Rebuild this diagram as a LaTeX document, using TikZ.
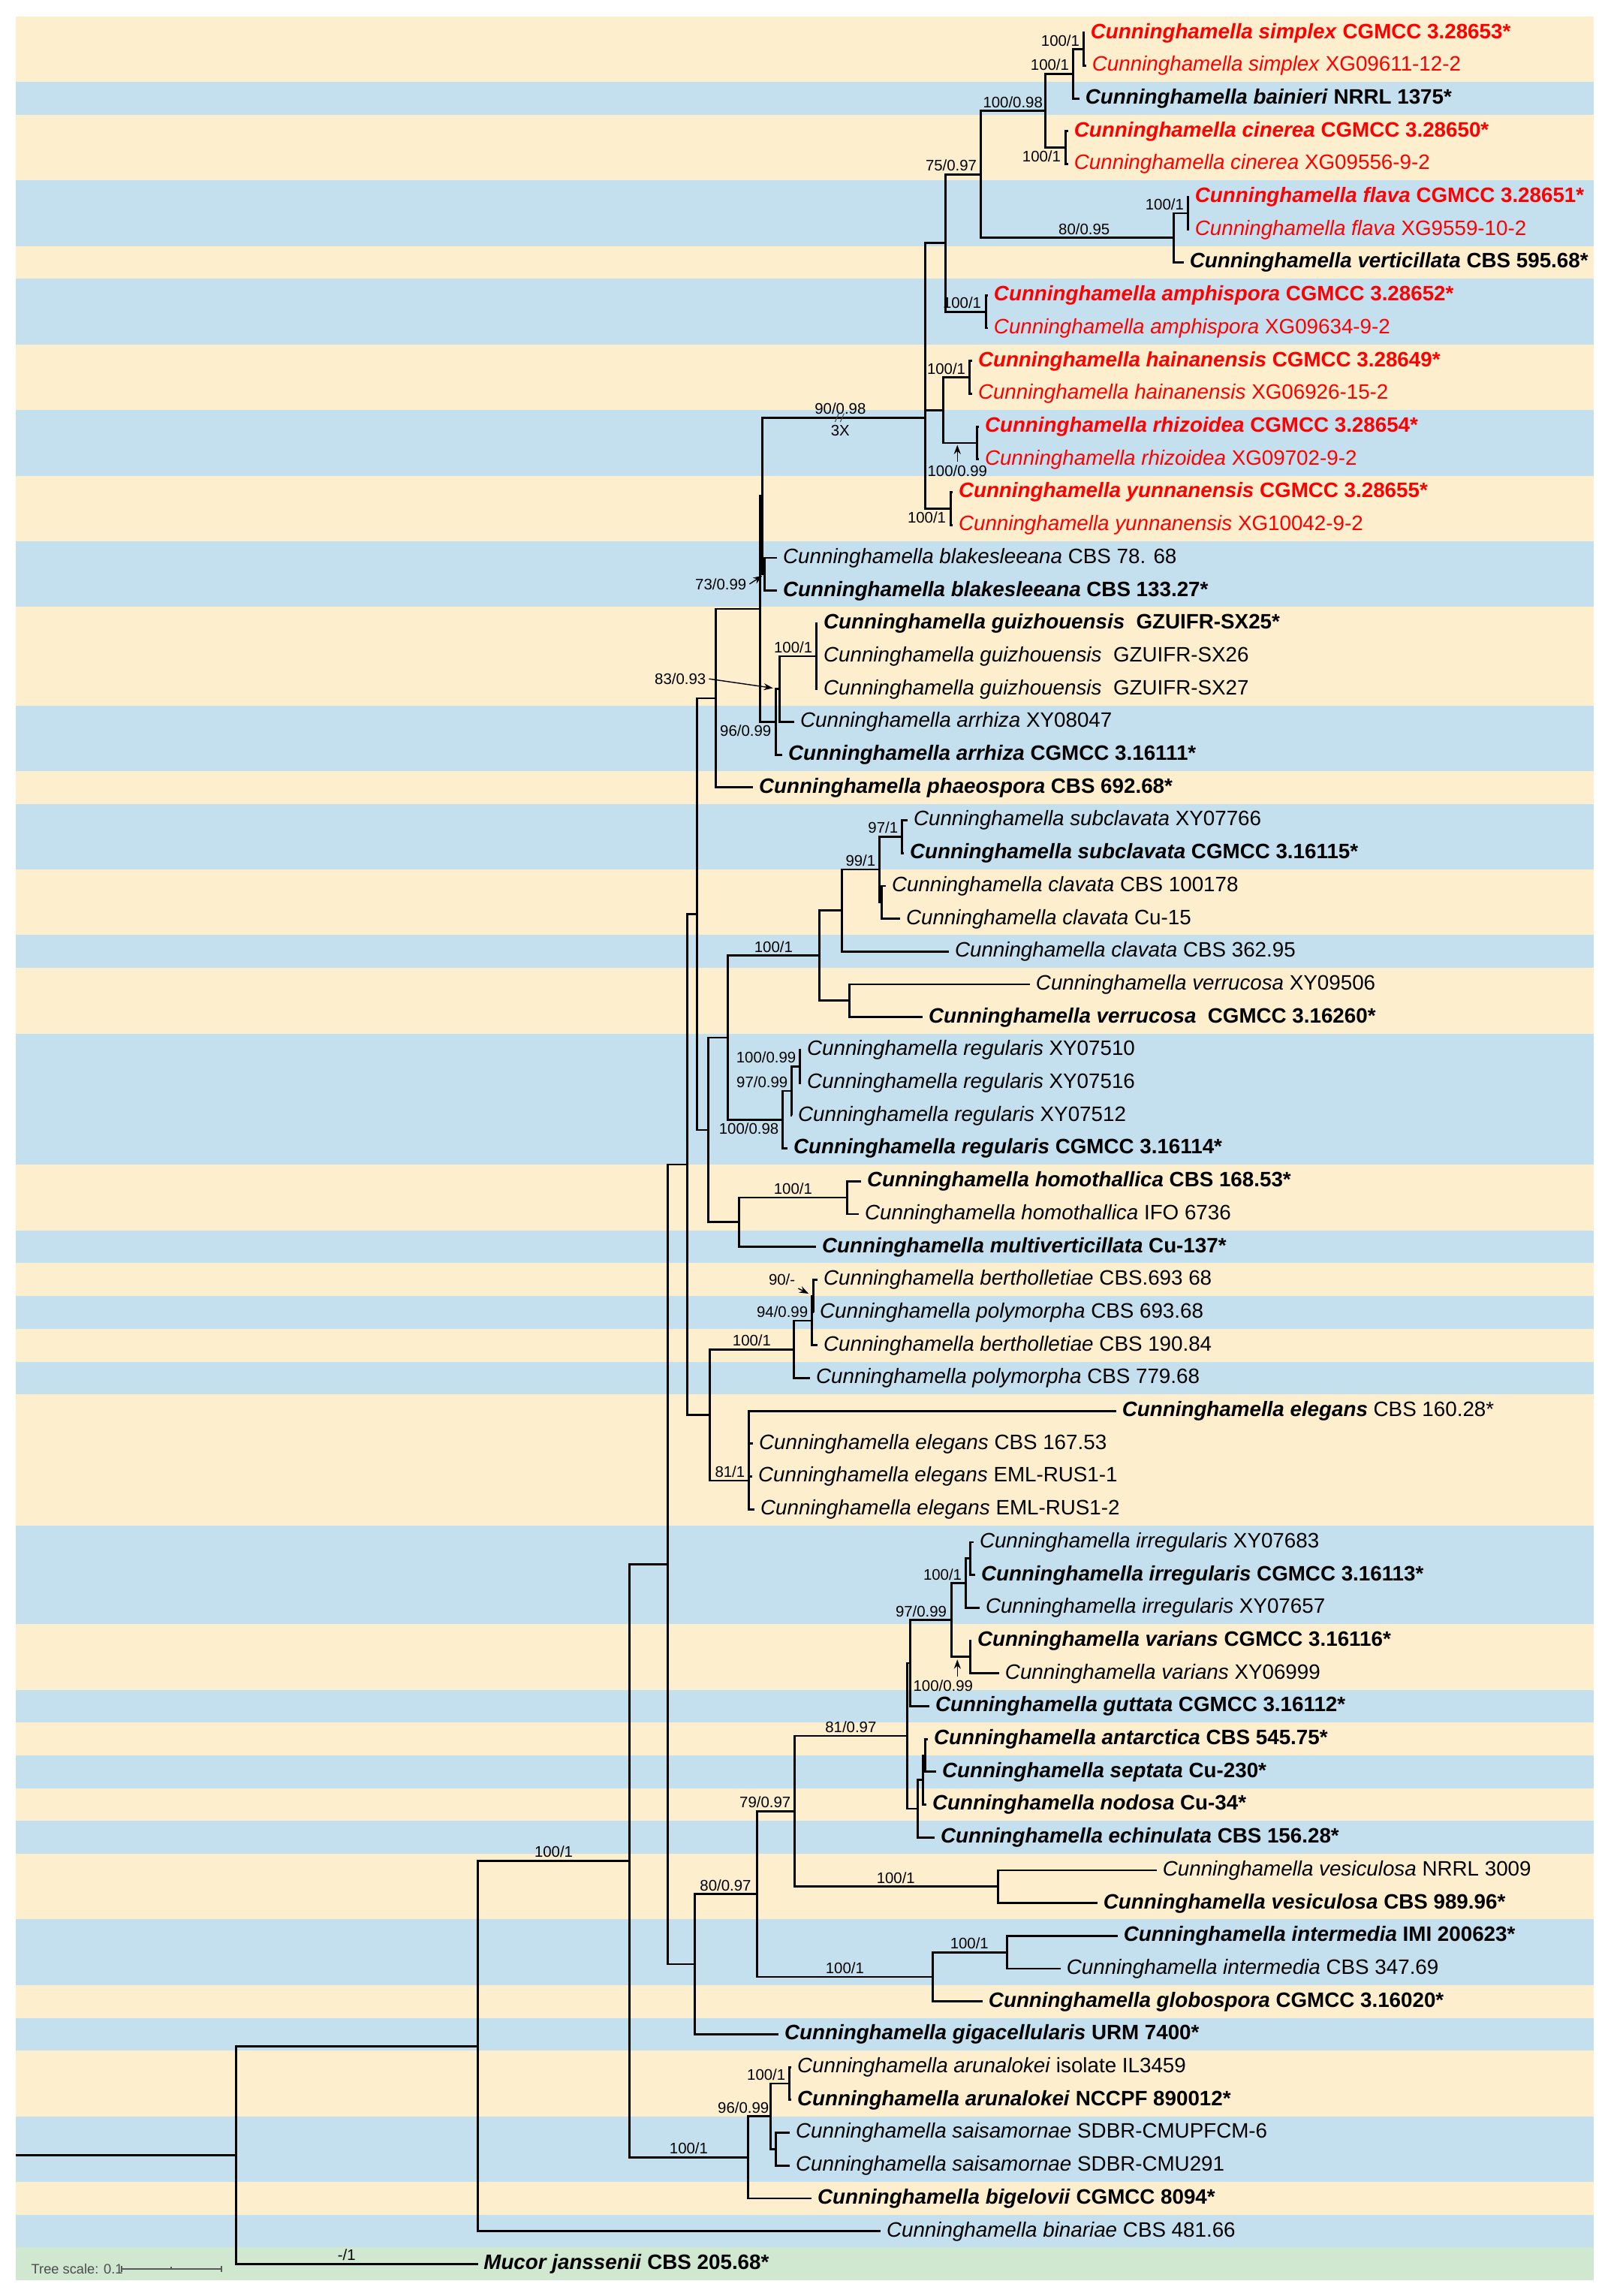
\documentclass[tikz,border=0pt]{standalone}
\usepackage{fontspec}
\setmainfont{Liberation Sans}
\usetikzlibrary{arrows.meta}
\definecolor{bandcream}{RGB}{253,238,205}
\definecolor{bandblue}{RGB}{196,224,239}
\definecolor{bandgreen}{RGB}{208,231,208}
\definecolor{newred}{RGB}{255,0,0}
\newcommand{\cun}[1]{\textit{Cunninghamella #1}}

\begin{document}
\begin{tikzpicture}[x=0.01cm, y=-0.437cm]
	\tikzset{
		mybranch/.style={line width=0.8pt},
		myleaf/.style={anchor=west, inner xsep=2pt, inner ysep=0pt, text height=5.8pt, text depth=1.6pt, font=\fontsize{7.9}{9}\selectfont},
		mysup/.style={inner sep=1pt, font=\fontsize{5.8}{7}\selectfont},
		myarrow/.style={-{Stealth[length=3.5pt,width=2.6pt]}, line width=0.4pt},
		myscale/.style={draw=black!65, line width=0.4pt}
	}

	\useasboundingbox (0,0) rectangle (2147,69.977);
	\fill[white] (0,0) rectangle (2147,69.977);

	% background bands, one per species
	\foreach \a/\b/\c in {1/2/bandcream, 3/3/bandblue, 4/5/bandcream, 6/7/bandblue, 8/8/bandcream,
		9/10/bandblue, 11/12/bandcream, 13/14/bandblue, 15/16/bandcream, 17/18/bandblue,
		19/21/bandcream, 22/23/bandblue, 24/24/bandcream, 25/26/bandblue, 27/28/bandcream,
		29/29/bandblue, 30/31/bandcream, 32/35/bandblue, 36/37/bandcream, 38/38/bandblue,
		39/39/bandcream, 40/40/bandblue, 41/41/bandcream, 42/42/bandblue, 43/46/bandcream,
		47/49/bandblue, 50/51/bandcream, 52/52/bandblue, 53/53/bandcream, 54/54/bandblue,
		55/55/bandcream, 56/56/bandblue, 57/58/bandcream, 59/60/bandblue, 61/61/bandcream,
		62/62/bandblue, 63/64/bandcream, 65/66/bandblue, 67/67/bandcream, 68/68/bandblue,
		69/69/bandgreen} {
		\fill[\c] (21,\a-0.5) rectangle (2124,\b+0.5);
	}

	% leaves: row / tip / colour / label
	\foreach \r/\t/\c/\txt in {
		1/1446/newred/{\textbf{\cun{simplex} CGMCC 3.28653*}},
		2/1448/newred/{\cun{simplex} XG09611-12-2},
		3/1439/black/{\textbf{\cun{bainieri} NRRL 1375*}},
		4/1424/newred/{\textbf{\cun{cinerea} CGMCC 3.28650*}},
		5/1424/newred/{\cun{cinerea} XG09556-9-2},
		6/1585/newred/{\textbf{\cun{flava} CGMCC 3.28651*}},
		7/1585/newred/{\cun{flava} XG9559-10-2},
		8/1578/black/{\textbf{\cun{verticillata} CBS 595.68*}},
		9/1317/newred/{\textbf{\cun{amphispora} CGMCC 3.28652*}},
		10/1317/newred/{\cun{amphispora} XG09634-9-2},
		11/1296/newred/{\textbf{\cun{hainanensis} CGMCC 3.28649*}},
		12/1296/newred/{\cun{hainanensis} XG06926-15-2},
		13/1305/newred/{\textbf{\cun{rhizoidea} CGMCC 3.28654*}},
		14/1305/newred/{\cun{rhizoidea} XG09702-9-2},
		15/1270/newred/{\textbf{\cun{yunnanensis} CGMCC 3.28655*}},
		16/1270/newred/{\cun{yunnanensis} XG10042-9-2},
		17/1036/black/{\cun{blakesleeana} CBS 78. 68},
		18/1036/black/{\textbf{\cun{blakesleeana} CBS 133.27*}},
		19/1090/black/{\textbf{\cun{guizhouensis}\ \ GZUIFR-SX25*}},
		20/1090/black/{\cun{guizhouensis}\ \ GZUIFR-SX26},
		21/1090/black/{\cun{guizhouensis}\ \ GZUIFR-SX27},
		22/1059/black/{\cun{arrhiza} XY08047},
		23/1043/black/{\textbf{\cun{arrhiza} CGMCC 3.16111*}},
		24/1004/black/{\textbf{\cun{phaeospora} CBS 692.68*}},
		25/1210/black/{\cun{subclavata} XY07766},
		26/1205/black/{\textbf{\cun{subclavata} CGMCC 3.16115*}},
		27/1181/black/{\cun{clavata} CBS 100178},
		28/1200/black/{\cun{clavata} Cu-15},
		29/1265/black/{\cun{clavata} CBS 362.95},
		30/1373/black/{\cun{verrucosa} XY09506},
		31/1230/black/{\textbf{\cun{verrucosa}\ \ CGMCC 3.16260*}},
		32/1068/black/{\cun{regularis} XY07510},
		33/1068/black/{\cun{regularis} XY07516},
		34/1056/black/{\cun{regularis} XY07512},
		35/1050/black/{\textbf{\cun{regularis} CGMCC 3.16114*}},
		36/1148/black/{\textbf{\cun{homothallica} CBS 168.53*}},
		37/1145/black/{\cun{homothallica} IFO 6736},
		38/1088/black/{\textbf{\cun{multiverticillata} Cu-137*}},
		39/1090/black/{\cun{bertholletiae} CBS.693 68},
		40/1085/black/{\cun{polymorpha} CBS 693.68},
		41/1090/black/{\cun{bertholletiae} CBS 190.84},
		42/1080/black/{\cun{polymorpha} CBS 779.68},
		43/1488/black/{\textbf{\cun{elegans}} CBS 160.28*},
		44/1004/black/{\cun{elegans} CBS 167.53},
		45/1003/black/{\cun{elegans} EML-RUS1-1},
		46/1006/black/{\cun{elegans} EML-RUS1-2},
		47/1298/black/{\cun{irregularis} XY07683},
		48/1300/black/{\textbf{\cun{irregularis} CGMCC 3.16113*}},
		49/1306/black/{\cun{irregularis} XY07657},
		50/1295/black/{\textbf{\cun{varians} CGMCC 3.16116*}},
		51/1332/black/{\cun{varians} XY06999},
		52/1239/black/{\textbf{\cun{guttata} CGMCC 3.16112*}},
		53/1237/black/{\textbf{\cun{antarctica} CBS 545.75*}},
		54/1248/black/{\textbf{\cun{septata} Cu-230*}},
		55/1235/black/{\textbf{\cun{nodosa} Cu-34*}},
		56/1246/black/{\textbf{\cun{echinulata} CBS 156.28*}},
		57/1542/black/{\cun{vesiculosa} NRRL 3009},
		58/1463/black/{\textbf{\cun{vesiculosa} CBS 989.96*}},
		59/1490/black/{\textbf{\cun{intermedia} IMI 200623*}},
		60/1414/black/{\cun{intermedia} CBS 347.69},
		61/1310/black/{\textbf{\cun{globospora} CGMCC 3.16020*}},
		62/1038/black/{\textbf{\cun{gigacellularis} URM 7400*}},
		63/1055/black/{\cun{arunalokei} isolate IL3459},
		64/1055/black/{\textbf{\cun{arunalokei} NCCPF 890012*}},
		65/1053/black/{\cun{saisamornae} SDBR-CMUPFCM-6},
		66/1053/black/{\cun{saisamornae} SDBR-CMU291},
		67/1082/black/{\textbf{\cun{bigelovii} CGMCC 8094*}},
		68/1174/black/{\cun{binariae} CBS 481.66},
		69/637/black/{\textbf{\textit{Mucor janssenii} CBS 205.68*}}} {
		\node[myleaf, text=\c] (l\r) at (\t,\r) {\txt};
	}

	% internal nodes
	\foreach \n/\x/\y in {nRoot/315/65.68, nIn/637/62.36, nA/839/56.71, nB/890/47.68,
		nC/916/35.49, nD/929/27.86, nE/954/21.28, nF/1013/18.56, nG/1016/15.11,
		nBlak/1019/17.5, nJ/1233/12.727, nK/1260/7.406, n75/1307/5.3125, nBC/1393/3.375,
		nSB/1430/2.25, nSim/1444/1.5, nCin/1420/4.5, n80/1564/7.25, nFla/1583/6.5,
		nAmph/1314/9.5, nHR/1257/12.5, nHai/1292/11.5, nRhi/1302/13.5, nYun/1267/15.5,
		nH/1034/22, nI/1039/21, nGui/1088/20,
		nL/944/34.4375, nM/970/31.625, nClv/1092/29.125, nCl1/1122/27.75, n99/1172/26.5,
		n97/1202/25.5, nCl2/1175/27.5, nVer/1132/30.5, nReg/1043/34.125, nR97/1055/33.25,
		nR100/1066/32.5, nHM/985/37.25, nHom/1129/36.5,
		nN/946/43.125, nBP/1058/41.125, nB94/1082/40.25, nB90/1084/39.5, nEl/998/45.125,
		nO/926/59.86, n80b/1009/57.727, n79/1059/55.203, n81/1209/52.906, nIV/1213/50.6875,
		n97b/1268/49.375, nIrr/1287/48.25, nIrr2/1293/47.5, nVar/1293/50.5,
		nAnt/1223/55.125, nAnt2/1230/54.25, nAnt3/1233/53.5, nVes/1330/57.5,
		nInt/1243/60.25, nInt2/1342/59.5,
		nP/997/65.75, n96/1027/64.5, nAru/1052/63.5, nSai/1034/65.5} {
		\coordinate (\n) at (\x,\y);
	}
	\coordinate (rootL) at (21,65.68);

	% branches
	\draw[mybranch] (rootL) -- (nRoot);
	\foreach \p/\c in {nRoot/nIn, nRoot/l69.west, nIn/nA, nIn/l68.west, nA/nB, nA/nP,
		nB/nC, nB/nO, nC/nD, nC/nN, nD/nE, nD/nL, nE/nF, nE/l24.west, nF/nG, nF/nH,
		nG/nJ, nG/nBlak, nBlak/l17.west, nBlak/l18.west,
		nJ/nK, nJ/nHR, nJ/nYun, nK/n75, nK/nAmph, n75/nBC, n75/n80,
		nBC/nSB, nBC/nCin, nSB/nSim, nSB/l3.west, nSim/l1.west, nSim/l2.west,
		nCin/l4.west, nCin/l5.west, n80/nFla, n80/l8.west, nFla/l6.west, nFla/l7.west,
		nAmph/l9.west, nAmph/l10.west, nHR/nHai, nHR/nRhi, nHai/l11.west, nHai/l12.west,
		nRhi/l13.west, nRhi/l14.west, nYun/l15.west, nYun/l16.west,
		nH/nI, nH/l23.west, nI/nGui, nI/l22.west, nGui/l19.west, nGui/l20.west, nGui/l21.west,
		nL/nM, nL/nHM, nM/nClv, nM/nReg, nClv/nCl1, nClv/nVer, nCl1/n99, nCl1/l29.west,
		n99/n97, n99/nCl2, n97/l25.west, n97/l26.west, nCl2/l27.west, nCl2/l28.west,
		nVer/l30.west, nVer/l31.west, nReg/nR97, nReg/l35.west, nR97/nR100, nR97/l34.west,
		nR100/l32.west, nR100/l33.west, nHM/nHom, nHM/l38.west, nHom/l36.west, nHom/l37.west,
		nN/nBP, nN/nEl, nBP/nB94, nBP/l42.west, nB94/nB90, nB94/l41.west,
		nB90/l39.west, nB90/l40.west, nEl/l43.west, nEl/l44.west, nEl/l45.west, nEl/l46.west,
		nO/n80b, nO/l62.west, n80b/n79, n80b/nInt, n79/n81, n79/nVes, n81/nIV, n81/nAnt,
		nIV/n97b, nIV/l52.west, n97b/nIrr, n97b/nVar, nIrr/nIrr2, nIrr/l49.west,
		nIrr2/l47.west, nIrr2/l48.west, nVar/l50.west, nVar/l51.west,
		nAnt/nAnt2, nAnt/l56.west, nAnt2/nAnt3, nAnt2/l55.west, nAnt3/l53.west, nAnt3/l54.west,
		nVes/l57.west, nVes/l58.west, nInt/nInt2, nInt/l61.west, nInt2/l59.west, nInt2/l60.west,
		nP/n96, nP/l67.west, n96/nAru, n96/nSai, nAru/l63.west, nAru/l64.west,
		nSai/l65.west, nSai/l66.west} {
		\draw[mybranch] (\p) |- (\c);
	}

	% support values (ML/BI)
	\node[mysup, anchor=south east] (s1) at (1443,1.5) {100/1};
	\node[mysup, anchor=south east] (s2) at (1429,2.25) {100/1};
	\node[mysup, anchor=north east] (s3) at (1418,4.5) {100/1};
	\node[mysup, anchor=south] (s4) at (1350,3.375) {100/0.98};
	\node[mysup, anchor=south east] (s5) at (1306,5.3125) {75/0.97};
	\node[mysup, anchor=south] (s6) at (1445,7.25) {80/0.95};
	\node[mysup, anchor=south east] (s7) at (1582,6.5) {100/1};
	\node[mysup, anchor=south east] (s8) at (1312,9.5) {100/1};
	\node[mysup, anchor=south] (s9) at (1120,12.727) {90/0.98};
	\node[mysup, anchor=north] (s10) at (1120,12.85) {3X};
	\node[mysup, anchor=south east] (s11) at (1291,11.5) {100/1};
	\node[mysup, anchor=north] (s12) at (1276,14.08) {100/0.99};
	\node[mysup, anchor=north east] (s13) at (1265,15.5) {100/1};
	\node[mysup, anchor=east] (s14) at (999,17.8) {73/0.99};
	\node[mysup, anchor=south east] (s15) at (1087,20) {100/1};
	\node[mysup, anchor=east] (s16) at (945,20.69) {83/0.93};
	\node[mysup, anchor=north east] (s17) at (1032,22) {96/0.99};
	\node[mysup, anchor=south east] (s18) at (1201,25.5) {97/1};
	\node[mysup, anchor=south] (s19) at (1147,26.5) {99/1};
	\node[mysup, anchor=south] (s20) at (1031,29.125) {100/1};
	\node[mysup, anchor=south east] (s21) at (1065,32.5) {100/0.99};
	\node[mysup, anchor=south east] (s22) at (1054,33.25) {97/0.99};
	\node[mysup, anchor=north east] (s23) at (1042,34.125) {100/0.98};
	\node[mysup, anchor=south] (s24) at (1057,36.5) {100/1};
	\node[mysup, anchor=east] (s25) at (1064,39.0) {90/-};
	\node[mysup, anchor=south east] (s26) at (1081,40.25) {94/0.99};
	\node[mysup, anchor=south] (s27) at (1002,41.125) {100/1};
	\node[mysup, anchor=south east] (s28) at (997,45.125) {81/1};
	\node[mysup, anchor=south east] (s29) at (1286,48.25) {100/1};
	\node[mysup, anchor=south east] (s30) at (1266,49.375) {97/0.99};
	\node[mysup, anchor=north] (s31) at (1257,51.1) {100/0.99};
	\node[mysup, anchor=south] (s32) at (1134,52.906) {81/0.97};
	\node[mysup, anchor=south east] (s33) at (1058,55.203) {79/0.97};
	\node[mysup, anchor=south] (s34) at (1194,57.5) {100/1};
	\node[mysup, anchor=south] (s35) at (967,57.727) {80/0.97};
	\node[mysup, anchor=south] (s36) at (1126,60.25) {100/1};
	\node[mysup, anchor=south] (s37) at (1292,59.5) {100/1};
	\node[mysup, anchor=south] (s38) at (738,56.71) {100/1};
	\node[mysup, anchor=south] (s39) at (918,65.75) {100/1};
	\node[mysup, anchor=south east] (s40) at (1029,64.5) {96/0.99};
	\node[mysup, anchor=south east] (s41) at (1051,63.5) {100/1};
	\node[mysup, anchor=south] (s42) at (462,69) {-/1};

	% pointers from values to tiny nodes
	\coordinate (aRhi) at (1276,13.56);
	\coordinate (aVar) at (1276,50.58);
	\draw[myarrow, shorten >=1pt] (s14.east) -- (nBlak);
	\draw[myarrow, shorten >=2.5pt] (s16.east) -- (nI);
	\draw[myarrow, shorten >=2pt] (s25.south east) -- (nB90);
	\draw[myarrow] (s12.north) -- (aRhi);
	\draw[myarrow] (s31.north -| aVar) -- (aVar);

	% break mark on the long branch
	\draw[line width=0.3pt, black!70] (1113,12.86) -- (1118,12.6) (1120,12.86) -- (1125,12.6);

	% tree scale
	\node[anchor=west, inner sep=0pt, text=black!70, font=\fontsize{5.2}{6}\selectfont] (tscale) at (41,69.15) {Tree scale: 0.1};
	\coordinate (barL) at (162,69.15);
	\coordinate (barM) at (228,69.15);
	\coordinate (barR) at (295,69.15);
	\draw[myscale] (barL) -- (barR);
	\draw[myscale] (barL) ++(0,-0.1) -- ++(0,0.2);
	\draw[myscale] (barR) ++(0,-0.1) -- ++(0,0.2);
	\draw[myscale] (barM) -- ++(0,-0.07);
\end{tikzpicture}
\end{document}
